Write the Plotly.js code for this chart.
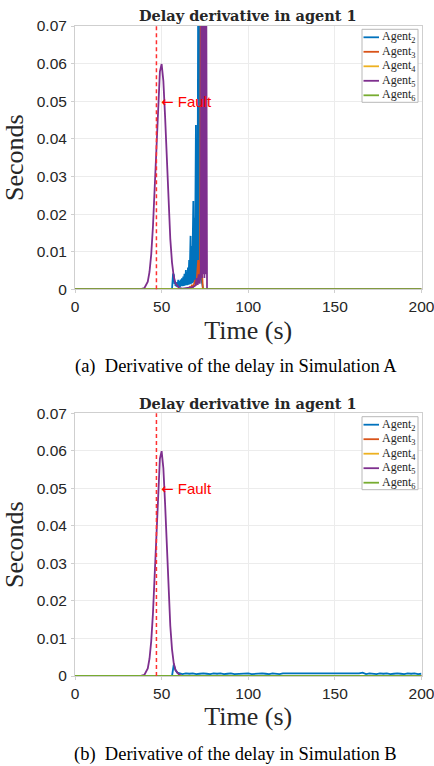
<!DOCTYPE html>
<html>
<head>
<meta charset="utf-8">
<script src="https://cdn.plot.ly/plotly-3.0.1.min.js"></script>
<style>html,body{margin:0;padding:0;background:#fff;overflow:hidden;}#chart{width:434px;height:766px;}</style>
</head>
<body>
<div id="chart"></div>
<script>
// ---------- data ----------
const seriesNames = ['Agent<sub>2</sub>','Agent<sub>3</sub>','Agent<sub>4</sub>','Agent<sub>5</sub>','Agent<sub>6</sub>'];
const xTicks = [0, 50, 100, 150, 200];
const yTicks = [0, 0.01, 0.02, 0.03, 0.04, 0.05, 0.06, 0.07];
const faultTime = 47;
const faultLabelX = 48.3;
const faultLabelY = 0.0497;

// Simulation A
const tA2 = [0, 56, 56.6, 57.1, 57.4, 57.7, 58.0, 58.3, 58.6, 58.9, 59.2, 59.6, 59.9, 60.3, 60.6, 61.0, 61.3, 61.7, 62.1, 62.5, 62.8, 63.2, 63.6, 64.0, 64.3, 64.6, 64.9, 65.2, 65.4, 65.6, 65.75, 65.9, 66.1, 66.3, 66.5, 66.7, 66.85, 67.0, 67.2, 67.4, 67.6, 67.8, 68.0, 68.3, 68.45, 68.6, 68.8, 69.0, 69.2, 69.4, 69.6, 69.8, 69.95, 70.1, 70.3, 70.5, 70.65, 70.8, 71.0, 71.15, 71.3, 71.45, 71.6, 71.75, 71.9, 72.05, 72.2, 72.35, 72.5, 72.8, 73.2, 73.6, 74.0, 200];
const yA2 = [0, 0, 0.0042, 0.0038, 0.0014, 0.0022, 0.0009, 0.0015, 0.0007, 0.0019, 0.0006, 0.0025, 0.0007, 0.0022, 0.0006, 0.0026, 0.0008, 0.0029, 0.0008, 0.0034, 0.0009, 0.0041, 0.001, 0.0051, 0.0011, 0.0045, 0.0011, 0.0058, 0.0012, 0.0065, 0.0012, 0.0078, 0.0013, 0.0098, 0.0013, 0.0142, 0.0014, 0.0115, 0.0015, 0.0105, 0.0016, 0.0165, 0.0017, 0.0235, 0.0018, 0.019, 0.0019, 0.016, 0.002, 0.028, 0.002, 0.0437, 0.0021, 0.035, 0.0022, 0.03, 0.0024, 0.055, 0.0025, 0.09, 0.003, 0.09, 0.003, 0.09, 0.003, 0.09, 0.0035, 0.09, 0.004, 0.09, 0.002, 0.001, 0, 0];
const tA3 = [0, 65, 65.7, 66.3, 66.9, 67.5, 68.1, 68.8, 69.4, 70.0, 70.5, 71.1, 71.6, 72.2, 72.6, 72.9, 73.3, 73.8, 200];
const yA3 = [0, 0, 0.0003, 0.0006, 0.0003, 0.0012, 0.0005, 0.0015, 0.0025, 0.001, 0.004, 0.0078, 0.002, 0.006, 0.09, 0.09, 0.005, 0, 0];
const tA4 = [0, 200];
const yA4 = [0, 0];
const tA5 = [0, 36, 38, 40, 42, 43, 44, 45, 46, 47, 48, 49, 50, 51, 52, 53, 54, 55, 56, 57, 58, 59, 60, 62, 64, 66, 68, 69.5, 70.2, 70.8, 71.4, 72.0, 72.6, 73.0, 73.3, 73.7, 74.0, 74.4, 74.7, 75.1, 75.4, 75.7, 76.2, 200];
const yA5 = [0, 0, 0.00003, 0.0003, 0.002, 0.0046, 0.0093, 0.0167, 0.0269, 0.0388, 0.0501, 0.0579, 0.0599, 0.0554, 0.0459, 0.034, 0.0225, 0.0134, 0.0071, 0.0034, 0.0016, 0.0008, 0.0004, 0.0002, 0.0003, 0.0004, 0.0006, 0.001, 0.003, 0.0012, 0.004, 0.0015, 0.005, 0.09, 0.003, 0.09, 0.004, 0.09, 0.003, 0.09, 0.004, 0.09, 0, 0];
const tA6 = [0, 200];
const yA6 = [0, 0];

// Simulation B
const tB2 = [0, 56, 57, 58, 59, 60, 62, 64, 66, 68, 70, 72, 74, 76, 78, 80, 82, 84, 86, 88, 90, 92, 94, 96, 98, 100, 102, 104, 106, 108, 110, 112, 114, 116, 118, 120, 122, 124, 126, 128, 130, 132, 134, 136, 138, 140, 142, 144, 146, 148, 150, 152, 154, 156, 158, 160, 162, 164, 166, 168, 170, 172, 174, 176, 178, 180, 182, 184, 186, 188, 190, 192, 194, 196, 198, 200];
const yB2 = [0, 0, 0.003, 0.0016, 0.0009,
  0.0007, 0.0005, 0.0007, 0.0006, 0.0007, 0.0005, 0.0006, 0.0007, 0.0006, 0.0005,
  0.0007, 0.0006, 0.0007, 0.0005, 0.0006, 0.0007, 0.0005, 0.0006, 0.0007, 0.0006,
  0.0007, 0.0005, 0.0006, 0.0007, 0.0007, 0.0006, 0.0005, 0.0007, 0.0006, 0.0005,
  0.0007, 0.0007, 0.0006, 0.0005, 0.0006, 0.0007, 0.0005, 0.0007, 0.0006, 0.0007,
  0.0005, 0.0006, 0.0007, 0.0006, 0.0005, 0.0007, 0.0006, 0.0007, 0.0005, 0.0006,
  0.0006, 0.0007, 0.0007, 0.0009, 0.0005, 0.0007, 0.0006, 0.0005, 0.0007, 0.0006,
  0.0007, 0.0005, 0.0006, 0.0007, 0.0006, 0.0005, 0.0007, 0.0006, 0.0007, 0.0005,
  0.0006];
const tB3 = [0, 200];
const yB3 = [0, 0];
const tB4 = [0, 200];
const yB4 = [0, 0];
const tB5 = [0, 36, 38, 40, 42, 43, 44, 45, 46, 47, 48, 49, 50, 51, 52, 53, 54, 55, 56, 57, 58, 59, 60, 62, 200];
const yB5 = [0, 0, 0.00003, 0.0003, 0.002, 0.0046, 0.0093, 0.0167, 0.0269, 0.0388, 0.0501, 0.0579, 0.0599, 0.0554, 0.0459, 0.034, 0.0225, 0.0134, 0.0071, 0.0034, 0.0016, 0.0008, 0.0004, 0, 0];
const tB6 = [0, 200];
const yB6 = [0, 0];

// ---------- styling ----------
const colors = ['#0072BD', '#D95319', '#EDB120', '#7E2F8E', '#77AC30'];
const widths = [1.8, 1.8, 1.8, 1.8, 2.2];
const setA = [[tA2, yA2], [tA3, yA3], [tA4, yA4], [tA5, yA5], [tA6, yA6]];
const setB = [[tB2, yB2], [tB3, yB3], [tB4, yB4], [tB5, yB5], [tB6, yB6]];

const traces = [];
setA.forEach((s, i) => traces.push({
  x: s[0], y: s[1], type: 'scatter', mode: 'lines', name: seriesNames[i], showlegend: false,
  line: {color: colors[i], width: widths[i]}, xaxis: 'x', yaxis: 'y'
}));
setB.forEach((s, i) => traces.push({
  x: s[0], y: s[1], type: 'scatter', mode: 'lines', name: seriesNames[i], showlegend: false,
  line: {color: colors[i], width: widths[i]}, xaxis: 'x2', yaxis: 'y2'
}));

const W = 434, H = 766;
const px = v => v / W;
const py = v => 1 - v / H;
const tickFont = {family: 'Liberation Sans, Arial, sans-serif', size: 15.5, color: '#262626'};
const bigFont = {family: 'Liberation Serif, serif', size: 26, color: '#262626'};

function xAxis(anchor) {
  return {
    domain: [px(75), px(421.5)], anchor: anchor, range: [0, 200],
    tickmode: 'array', tickvals: xTicks, ticktext: xTicks.map(String),
    showgrid: true, gridcolor: '#ececec', gridwidth: 1,
    showline: true, mirror: true, linecolor: '#cfcfcf', linewidth: 1,
    zeroline: false, ticks: 'outside', ticklen: 3, tickcolor: '#cfcfcf',
    tickfont: tickFont, ticklabelstandoff: 0, ticklabeloverflow: 'allow',
    title: {text: 'Time (s)', font: bigFont, standoff: 6}
  };
}
function yAxis(anchor, top, bottom) {
  return {
    domain: [py(bottom), py(top)], anchor: anchor, range: [0, 0.07],
    tickmode: 'array', tickvals: yTicks, ticktext: yTicks.map(v => v === 0 ? '0' : v.toFixed(2)),
    showgrid: true, gridcolor: '#ececec', gridwidth: 1,
    showline: true, mirror: true, linecolor: '#cfcfcf', linewidth: 1,
    zeroline: false, ticks: 'outside', ticklen: 3, tickcolor: '#cfcfcf',
    tickfont: tickFont, ticklabelstandoff: 1, ticklabeloverflow: 'allow',
    title: {text: 'Seconds', font: bigFont, standoff: 6}
  };
}

const titleFont = {family: 'DejaVu Serif, serif', size: 14.5, color: '#262626', weight: 'bold'};
const capFont = {family: 'Liberation Serif, serif', size: 18.5, color: '#000000'};
const faultFont = {family: 'Liberation Sans, Arial, sans-serif', size: 15, color: '#ff0000'};
const legFont = {family: 'Liberation Serif, serif', size: 12, color: '#262626'};

function panelAnnots(xa, ya, titleY, capY, capText) {
  return [
    {text: '<b>Delay derivative in agent 1</b>', xref: 'paper', yref: 'paper', x: px(248), y: py(titleY), xanchor: 'center', yanchor: 'middle', showarrow: false, font: titleFont},
    {text: capText, xref: 'paper', yref: 'paper', x: px(235.5), y: py(capY), xanchor: 'center', yanchor: 'middle', showarrow: false, font: capFont},
    {text: '<span style="font-family:DejaVu Sans">\u2190</span> Fault', xref: xa, yref: ya, x: faultLabelX, y: faultLabelY, xanchor: 'left', yanchor: 'middle', showarrow: false, font: faultFont}
  ];
}

// legend drawn as a boxed key (box top in px, entry rows every 14.5 px)
function legendParts(top) {
  const shapes = [{type: 'rect', xref: 'paper', yref: 'paper', x0: px(362), x1: px(418), y0: py(top), y1: py(top + 73), line: {color: '#b8b8b8', width: 1}, fillcolor: '#ffffff', layer: 'above'}];
  const annots = [];
  seriesNames.forEach((n, i) => {
    const yc = top + 8 + i * 14.5;
    shapes.push({type: 'line', xref: 'paper', yref: 'paper', x0: px(363.5), x1: px(379), y0: py(yc), y1: py(yc), line: {color: colors[i], width: 1.8}, layer: 'above'});
    annots.push({text: n, xref: 'paper', yref: 'paper', x: px(379.5), y: py(yc), xanchor: 'left', yanchor: 'middle', showarrow: false, font: legFont});
  });
  return {shapes, annots};
}
const legA = legendParts(29.3), legB = legendParts(416.7);

const annotations = [].concat(
  panelAnnots('x', 'y', 16, 366, '(a)\u00a0\u00a0Derivative of the delay in Simulation A'),
  panelAnnots('x2', 'y2', 403, 754, '(b)\u00a0\u00a0Derivative of the delay in Simulation B'),
  legA.annots, legB.annots
);

const faultLine = (xa, ya) => ({
  type: 'line', xref: xa, yref: ya + ' domain', x0: faultTime, x1: faultTime, y0: 0, y1: 1,
  line: {color: '#ff3030', width: 1.5, dash: '4px,3px'}
});

const layout = {
  width: W, height: H, margin: {l: 0, r: 0, t: 0, b: 0},
  paper_bgcolor: '#ffffff', plot_bgcolor: '#ffffff',
  xaxis: xAxis('y'), yaxis: yAxis('x', 26, 289.3),
  xaxis2: xAxis('y2'), yaxis2: yAxis('x2', 413.3, 676),
  annotations: annotations,
  shapes: [faultLine('x', 'y'), faultLine('x2', 'y2')].concat(legA.shapes, legB.shapes),
  showlegend: false
};

Plotly.newPlot('chart', traces, layout, {displayModeBar: false, staticPlot: true});
</script>
</body>
</html>
